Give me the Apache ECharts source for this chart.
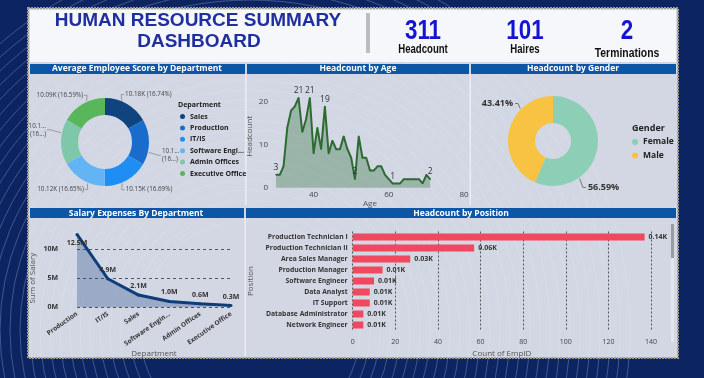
<!DOCTYPE html>
<html><head><meta charset="utf-8">
<script src="https://cdn.jsdelivr.net/npm/echarts@6/dist/echarts.min.js"></script>
<style>html,body{margin:0;padding:0;background:#0c2461;}#c{width:704px;height:378px;}</style>
</head><body><div id="c"></div>
<script>
// ---------- data ----------
const kpiValues = ['311', '101', '2'];
const kpiLabels = ['Headcount', 'Haires', 'Terminations'];

const deptNames = ['Sales', 'Production', 'IT/IS', 'Software Engineering', 'Admin Offices', 'Executive Office'];
const deptScores = [10180, 10140, 10150, 10124, 10128, 10090];
const deptTruncatedLabels = ['Production', 'Admin Offices'];

const ages = [30,31,32,33,34,35,36,37,38,39,40,41,42,43,44,45,46,47,48,49,50,51,52,53,54,55,56,57,58,59,60,61,62,63,64,65,66,67,68,69,70,71];
const ageCounts = [3,3,5,14,18,19,21,13,16,21,8,14,9,19,8,11,9,9,12,9,7,2,12,7,7,4,4,5,5,3,2,1,1,1,2,2,2,2,2,1,3,2];
const ageLabeledAges = [30,36,39,43,51,61,71];

const genderNames = ['Female', 'Male'];
const genderCounts = [176, 135];

const salaryDepts = ['Production', 'IT/IS', 'Sales', 'Software Engineering', 'Admin Offices', 'Executive Office'];
const salarySums = [12500000, 4900000, 2100000, 1000000, 600000, 300000];

const positions = ['Production Technician I', 'Production Technician II', 'Area Sales Manager', 'Production Manager', 'Software Engineer', 'Data Analyst', 'IT Support', 'Database Administrator', 'Network Engineer'];
const positionCounts = [137, 57, 27, 14, 10, 8, 8, 5, 5];

// ---------- styling ----------
const FONT = "'Open Sans','Noto Sans',sans-serif";
const SANS = "'Liberation Sans',Arial,sans-serif";
const deptColors = ['#0f447f', '#1a6ccc', '#1f8ef2', '#62b4f5', '#7fc7a9', '#59b65a'];
const genderColors = ['#8dcfb6', '#f8c242'];
const BAR = '#f0485f';
const TITLEBAR = '#0d55a5';
const PANEL = '#d3d7e3';
const DEPT_PIE = {c: [105, 142], r: [27, 44]};
const GENDER_PIE = {c: [553, 141], r: [18, 45]};
const deptLabelShift = [[-15, -6], [-2, 13], [-14, 6], [14, 6], [0, -12], [13, -5]];
const genderLabelShift = [[-30, 36], [25, -27]];

const chart = echarts.init(document.getElementById('c'), null, {renderer: 'canvas'});

const deptSum = deptScores.reduce((a, b) => a + b, 0);

// label layout: shift label, then draw leader from ring edge to the label
function leaderLayout(pie, shifts, gap) {
  const cx = pie.c[0], cy = pie.c[1], R = pie.r[1];
  return p => {
    const s = shifts[p.dataIndex];
    const r = p.labelRect;
    const x0 = r.x + s[0], y0 = r.y + s[1];
    const ly = y0 + r.height / 2;
    const right = (x0 + r.width / 2) > cx;
    const tx = right ? x0 - gap : x0 + r.width + gap;
    const vx = tx - cx, vy = ly - cy, n = Math.hypot(vx, vy);
    const ex = cx + vx / n * (R + 1), ey = cy + vy / n * (R + 1);
    const mx = right ? tx - 3 : tx + 3;
    return {dx: s[0], dy: s[1], labelLinePoints: [[ex, ey], [mx, ly], [tx, ly]]};
  };
}

// decorative swirl circles
const swirl = [];
for (let r = 110; r <= 380; r += 10) {
  swirl.push({type: 'circle', z: 0, silent: true, shape: {cx: 250, cy: 330, r: r},
    style: {fill: null, stroke: 'rgba(205,240,255,0.33)', lineWidth: 0.8}});
}

const panelTitle = (text, x, y) => ({type: 'text', z: 20, x: x, y: y,
  style: {text: text, fill: '#fff', font: "bold 8.5px " + FONT, align: 'center', verticalAlign: 'middle'}});

const graphics = [
  {type: 'rect', z: 0, shape: {x: 0, y: 0, width: 704, height: 378}, style: {fill: '#0c2461'}},
  {type: 'rect', z: 0, shape: {x: 28, y: 8, width: 650, height: 350}, style: {fill: PANEL, stroke: '#a09c8c', lineWidth: 2, lineDash: [2, 1]}},
  ...swirl,
  {type: 'rect', z: 1, shape: {x: 30, y: 10, width: 646, height: 52}, style: {fill: '#f6f7fa'}},
  {type: 'rect', z: 1, shape: {x: 366, y: 13, width: 4, height: 40}, style: {fill: '#bdbdbd'}},
  {type: 'rect', z: 1, shape: {x: 30, y: 64, width: 215, height: 10}, style: {fill: TITLEBAR}},
  {type: 'rect', z: 1, shape: {x: 247, y: 64, width: 222, height: 10}, style: {fill: TITLEBAR}},
  {type: 'rect', z: 1, shape: {x: 471, y: 64, width: 205, height: 10}, style: {fill: TITLEBAR}},
  {type: 'rect', z: 1, shape: {x: 30, y: 208, width: 214, height: 10}, style: {fill: TITLEBAR}},
  {type: 'rect', z: 1, shape: {x: 246, y: 208, width: 430, height: 10}, style: {fill: TITLEBAR}},
  {type: 'rect', z: 1, shape: {x: 245, y: 74, width: 1.5, height: 131}, style: {fill: 'rgba(255,255,255,0.55)'}},
  {type: 'rect', z: 1, shape: {x: 469.5, y: 74, width: 1.5, height: 131}, style: {fill: 'rgba(255,255,255,0.55)'}},
  {type: 'rect', z: 1, shape: {x: 244.5, y: 218, width: 1.5, height: 138}, style: {fill: 'rgba(255,255,255,0.55)'}},
  {type: 'rect', z: 1, shape: {x: 671, y: 224, width: 3, height: 118}, style: {fill: 'rgba(255,255,255,0.35)'}},
  {type: 'rect', z: 1, shape: {x: 671, y: 224, width: 3, height: 34}, style: {fill: '#9a9ca4'}},
  {type: 'text', z: 20, x: 198, y: 21, style: {text: 'HUMAN RESOURCE SUMMARY', fill: '#1f2f9f', font: "bold 19px " + SANS, align: 'center', verticalAlign: 'middle'}},
  {type: 'text', z: 20, x: 199, y: 42, style: {text: 'DASHBOARD', fill: '#1f2f9f', font: "bold 19px " + SANS, align: 'center', verticalAlign: 'middle'}},
  panelTitle('Average Employee Score by Department', 137, 69),
  panelTitle('Headcount by Age', 358, 69),
  panelTitle('Headcount by Gender', 573, 69),
  panelTitle('Salary Expenses By Department', 136, 213.5),
  panelTitle('Headcount by Position', 461, 213.5),
  {type: 'text', z: 20, x: 178, y: 105, style: {text: 'Department', fill: '#222', font: "bold 7px " + FONT, verticalAlign: 'middle'}},
  {type: 'text', z: 20, x: 632, y: 128, style: {text: 'Gender', fill: '#222', font: "bold 9px " + FONT, verticalAlign: 'middle'}}
];
const kpiX = [423, 525, 627];
kpiValues.forEach((v, i) => {
  graphics.push({type: 'text', z: 20, x: kpiX[i], y: 31, scaleX: 0.8,
    style: {text: v, fill: '#1414d2', font: "bold 28px " + SANS, align: 'center', verticalAlign: 'middle'}});
  graphics.push({type: 'text', z: 20, x: kpiX[i], y: i === 2 ? 53 : 50, scaleX: 0.8,
    style: {text: kpiLabels[i], fill: '#111', font: (i === 2 ? "bold 13px " : "bold 12px ") + SANS, align: 'center', verticalAlign: 'middle'}});
});

const axisNameStyle = {fontSize: 8, color: '#555', fontFamily: FONT};

const option = {
  animation: false,
  backgroundColor: '#0c2461',
  textStyle: {fontFamily: FONT},
  graphic: {elements: graphics},
  legend: [
    {data: deptNames, orient: 'vertical', left: 175, top: 108, icon: 'circle', itemWidth: 5, itemHeight: 5, itemGap: 4.4,
      textStyle: {fontSize: 7, fontWeight: 'bold', color: '#222', fontFamily: FONT},
      formatter: n => n.length > 16 ? n.slice(0, 13) + '...' : n},
    {data: genderNames, orient: 'vertical', left: 627, top: 132.5, icon: 'circle', itemWidth: 6, itemHeight: 6, itemGap: 4.5,
      textStyle: {fontSize: 8.5, fontWeight: 'bold', color: '#222', fontFamily: FONT}}
  ],
  grid: [
    {left: 276, right: 240, top: 85, bottom: 190.3},
    {left: 77, right: 473, top: 249, bottom: 70.7},
    {left: 352.7, right: 53, top: 231.5, bottom: 47.5}
  ],
  xAxis: [
    {gridIndex: 0, type: 'value', min: 30, max: 80, interval: 10,
      axisLine: {show: false}, axisTick: {show: false}, splitLine: {show: false},
      axisLabel: {fontSize: 8, color: '#444', margin: 3, formatter: v => v % 20 === 0 ? String(v) : ''},
      name: 'Age', nameLocation: 'middle', nameGap: 12, nameTextStyle: axisNameStyle},
    {gridIndex: 1, type: 'category', data: salaryDepts, boundaryGap: false,
      axisLine: {show: false}, axisTick: {show: false},
      axisLabel: {rotate: 35, fontSize: 6.5, fontWeight: 'bold', color: '#333', margin: 6, interval: 0,
        formatter: n => n.length > 16 ? n.slice(0, 14) + '...' : n},
      name: 'Department', nameLocation: 'middle', nameGap: 42, nameTextStyle: axisNameStyle},
    {gridIndex: 2, type: 'value', min: 0, max: 140, interval: 20,
      axisLine: {show: false}, axisTick: {show: false},
      splitLine: {lineStyle: {color: '#555', type: [2, 2], width: 1}},
      axisLabel: {fontSize: 7, color: '#444', margin: 8},
      name: 'Count of EmpID', nameLocation: 'middle', nameGap: 19, nameTextStyle: axisNameStyle}
  ],
  yAxis: [
    {gridIndex: 0, type: 'value', min: 0, max: 24, interval: 10,
      axisLine: {show: false}, axisTick: {show: false}, splitLine: {show: false},
      axisLabel: {fontSize: 8, color: '#444', margin: 8, formatter: v => v % 10 === 0 ? String(v) : ''},
      name: 'Headcount', nameLocation: 'middle', nameGap: 22, nameTextStyle: axisNameStyle},
    {gridIndex: 1, type: 'value', min: 0, max: 10000000, interval: 5000000,
      axisLine: {show: false}, axisTick: {show: false},
      splitLine: {lineStyle: {color: '#555', type: [3, 3], width: 1}},
      axisLabel: {fontSize: 7, fontWeight: 'bold', color: '#333', margin: 19, formatter: v => (v / 1e6) + 'M'},
      name: 'Sum of Salary', nameLocation: 'middle', nameGap: 40, nameTextStyle: axisNameStyle},
    {gridIndex: 2, type: 'category', data: positions, inverse: true,
      axisLine: {show: false}, axisTick: {show: false},
      axisLabel: {fontSize: 6.8, fontWeight: 'bold', color: '#333', margin: 5},
      name: 'Position', nameLocation: 'middle', nameGap: 98, nameTextStyle: axisNameStyle}
  ],
  series: [
    {type: 'pie', center: DEPT_PIE.c, radius: DEPT_PIE.r, startAngle: 90, clockwise: true,
      avoidLabelOverlap: true, color: deptColors,
      data: deptNames.map((n, i) => ({name: n, value: deptScores[i]})),
      label: {fontSize: 6.3, color: '#444', fontFamily: FONT, lineHeight: 8,
        formatter: p => deptTruncatedLabels.includes(p.name) ? '10.1...\n(16...)' :
          (p.value / 1000).toFixed(2) + 'K (' + (p.value / deptSum * 100).toFixed(2) + '%)'},
      labelLine: {length: 4, length2: 6, lineStyle: {color: '#8a8a8a', width: 0.8}},
      labelLayout: leaderLayout(DEPT_PIE, deptLabelShift, 1)},
    {type: 'pie', center: GENDER_PIE.c, radius: GENDER_PIE.r, startAngle: 90, clockwise: true,
      color: genderColors,
      data: genderNames.map((n, i) => ({name: n, value: genderCounts[i]})),
      label: {fontSize: 9, fontWeight: 'bold', color: '#333', fontFamily: FONT,
        formatter: p => p.percent.toFixed(2) + '%'},
      labelLine: {length: 6, length2: 10, lineStyle: {color: '#777', width: 1}},
      labelLayout: leaderLayout(GENDER_PIE, genderLabelShift, 2)},
    {type: 'line', xAxisIndex: 0, yAxisIndex: 0, symbol: 'circle', symbolSize: 1.5,
      data: ages.map((a, i) => ({value: [a, ageCounts[i]], label: {show: ageLabeledAges.includes(a)}})),
      itemStyle: {color: '#2e6a33'},
      lineStyle: {color: '#2e6a33', width: 2},
      areaStyle: {color: 'rgba(55,115,62,0.5)'},
      label: {position: 'top', distance: 2, fontSize: 8.5, color: '#333', formatter: p => p.value[1]}},
    {type: 'line', xAxisIndex: 1, yAxisIndex: 1, clip: false, symbol: 'circle', symbolSize: 3,
      data: salarySums.map((v, i) => ({value: v, label: {position: i === 0 ? 'bottom' : 'top'}})),
      itemStyle: {color: '#0e3d78'},
      lineStyle: {color: '#0e3d78', width: 3},
      areaStyle: {color: 'rgba(20,60,130,0.42)'},
      label: {show: true, fontSize: 7, fontWeight: 'bold', color: '#333', distance: 4,
        formatter: p => (p.value / 1e6).toFixed(1) + 'M'}},
    {type: 'bar', xAxisIndex: 2, yAxisIndex: 2, data: positionCounts, barWidth: 7,
      itemStyle: {color: BAR},
      label: {show: true, position: 'right', distance: 4, fontSize: 7, fontWeight: 'bold', color: '#333',
        formatter: p => (p.value / 1000).toFixed(2) + 'K'}}
  ]
};
chart.setOption(option);
</script>
</body></html>
